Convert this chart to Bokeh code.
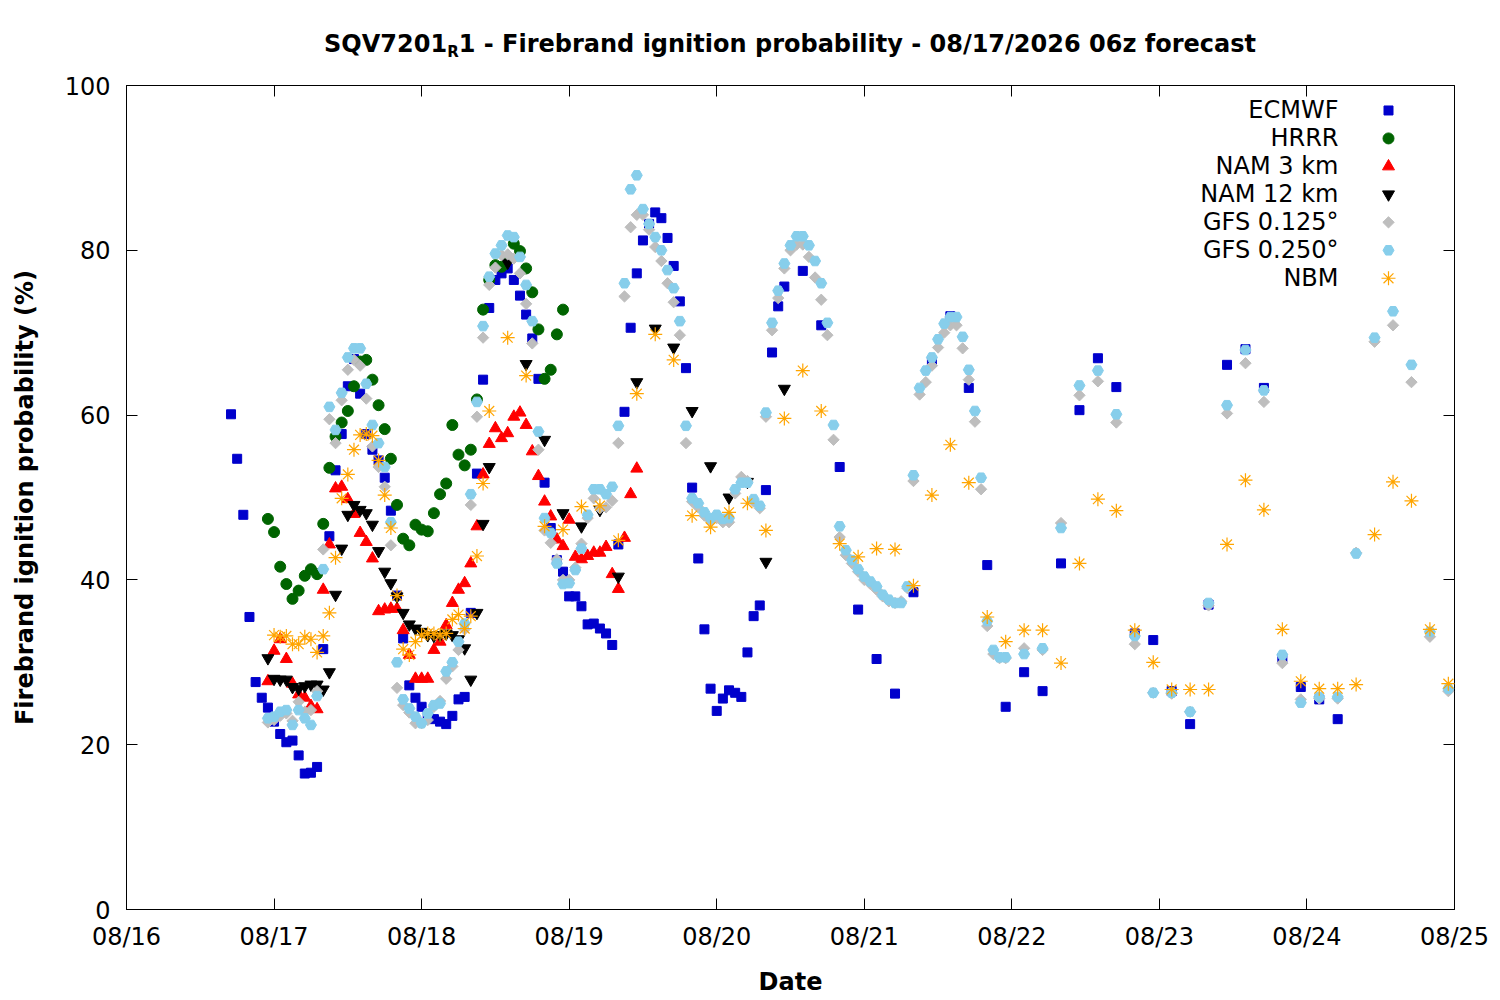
from bokeh.plotting import figure
from bokeh.models import Range1d, FixedTicker, LinearAxis, Label, ColumnDataSource, Div
from bokeh.layouts import column
from bokeh.embed import file_html
from bokeh.resources import INLINE
import math

# ---------------- data (hours since 08/16 00:00) ----------------
day_ticks = [0, 24, 48, 72, 96, 120, 144, 168, 192, 216]
day_labels = ["08/16", "08/17", "08/18", "08/19", "08/20", "08/21", "08/22", "08/23", "08/24", "08/25"]
y_ticks = [0, 20, 40, 60, 80, 100]

ecmwf_hours = list(range(17, 108)) + list(range(110, 198, 3))
ecmwf_vals = [
    60.1, 54.7, 47.9, 35.5, 27.6, 25.7, 24.5, 22.8, 21.3, 20.3,
    20.5, 18.7, 16.5, 16.6, 17.3, 31.6, 45.3, 53.3, 57.7, 63.5,
    66.8, 62.6, 57.7, 55.8, 54.5, 52.4, 48.4, 38.1, 32.9, 27.2,
    25.7, 24.6, 23.4, 23.1, 22.8, 22.5, 23.5, 25.5, 25.8, 36.0,
    52.9, 64.3, 73.0, 76.4, 77.2, 77.8, 76.4, 74.5, 72.2, 69.3,
    64.4, 51.8, 46.3, 42.4, 41.0, 38.0, 38.0, 36.8, 34.6, 34.7,
    34.1, 33.5, 32.1, 44.3, 60.4, 70.6, 77.2, 81.2, 83.2, 84.6,
    83.9, 81.5, 78.1, 73.8, 65.7, 51.2, 42.6, 34.0, 26.8, 24.1,
    25.6, 26.6, 26.3, 25.8, 31.2, 35.6, 36.9, 50.9, 67.6, 73.2, 75.6,
    77.5, 70.9, 53.7, 36.4, 30.4, 26.2, 38.5, 66.5, 72.0, 63.3,
    41.8, 24.6, 28.8, 26.5, 42.0, 60.6, 66.9, 63.4, 33.5, 32.7,
    26.5, 22.5, 37.0, 66.1, 68.0, 63.3, 30.5, 27.0, 25.5, 23.1,
]

hrrr_hours = list(range(23, 72))
hrrr_vals = [
    47.4, 45.8, 41.6, 39.5, 37.7, 38.7, 40.5, 41.3, 40.7, 46.8,
    53.6, 57.4, 59.1, 60.5, 63.5, 66.5, 66.7, 64.3, 61.2, 58.3,
    54.7, 49.1, 45.0, 44.2, 46.7, 46.1, 45.9, 48.1, 50.4, 51.7,
    58.8, 55.2, 53.9, 55.8, 61.9, 72.8, 76.4, 78.2, 78.0, 79.1,
    80.8, 79.9, 77.8, 74.9, 70.4, 64.4, 65.5, 69.8, 72.8,
]

nam3_hours = list(range(23, 84))
nam3_vals = [
    27.7, 31.4, 32.8, 30.4, 27.4, 26.1, 25.7, 24.7, 24.3, 38.8,
    44.3, 51.1, 51.3, 49.8, 48.0, 45.7, 44.6, 42.6, 36.2, 36.4,
    36.5, 36.5, 33.9, 30.9, 28.0, 28.0, 28.0, 31.5, 32.5, 34.5,
    37.2, 38.8, 39.6, 42.0, 46.5, 52.8, 56.5, 58.4, 57.2, 57.8,
    59.8, 60.3, 58.8, 55.6, 52.6, 49.5, 47.7, 44.9, 44.1, 47.3,
    42.8, 42.5, 42.9, 43.3, 43.3, 44.0, 40.7, 38.9, 45.1, 50.4, 53.5,
]

nam12_hours = list(range(23, 60)) + list(range(62, 108, 3))
nam12_vals = [
    30.5, 28.0, 27.9, 27.9, 27.0, 26.8, 27.1, 27.3, 27.3, 26.7,
    28.8, 38.2, 43.8, 47.9, 49.1, 48.5, 48.1, 46.7, 43.5, 41.0,
    39.6, 38.0, 36.0, 34.6, 34.1, 33.7, 33.3, 33.2, 33.3, 33.5,
    33.3, 32.8, 31.7, 27.9, 36.0, 46.8, 53.7,
    78.5, 66.2, 57.0, 48.1, 46.5, 48.5, 40.4, 64.0, 70.5, 68.2,
    60.5, 53.8, 50.0, 51.9, 42.2, 63.2,
]

gfs_hours = list(range(23, 144)) + list(range(146, 216, 3))
gfs125_vals = [
    22.7, 23.0, 23.5, 23.8, 22.9, 25.2, 24.0, 24.2, 26.5, 43.7,
    59.5, 56.6, 61.8, 65.5, 66.7, 66.0, 62.0, 56.2, 53.7, 51.3,
    44.2, 26.9, 24.8, 23.9, 22.6, 22.6, 23.0, 24.6, 25.3, 28.0,
    29.5, 31.5, 34.0, 49.1, 59.8, 69.4, 75.8, 77.9, 79.4, 79.5,
    79.0, 77.2, 73.5, 68.7, 55.8, 46.0, 44.5, 42.5, 40.0, 40.0,
    41.5, 44.4, 47.5, 49.9, 48.7, 48.8, 49.6, 56.6, 74.4, 82.8,
    84.3, 84.3, 82.5, 80.4, 78.7, 76.0, 73.7, 69.7, 56.6, 49.5,
    48.8, 47.8, 47.2, 47.5, 47.0, 47.0, 50.5, 52.5, 52.0, 49.5,
    48.7, 59.8, 70.3, 74.2, 77.8, 80.0, 80.7, 80.7, 79.2, 76.7,
    74.0, 69.7, 57.0, 45.2, 43.0, 42.0, 41.0, 40.0, 39.5, 38.8,
    38.0, 37.4, 37.2, 37.4, 39.0, 52.0, 62.5, 64.0, 66.0, 68.2,
    70.0, 70.9, 70.9, 68.1, 64.3, 59.2, 51.0, 34.4, 31.0, 30.5, 30.5,
    31.7, 31.5, 46.9, 62.4, 64.1, 59.1, 32.2, 26.3, 26.2, 24.0,
    36.9, 60.2, 66.3, 61.6, 29.9, 25.5, 25.6, 25.6, 43.3, 68.9,
    70.9, 64.0, 33.1, 26.5,
]
gfs250_vals = [
    23.2, 23.4, 24.0, 24.2, 22.4, 24.2, 23.2, 22.4, 25.9, 41.3,
    61.0, 58.2, 62.7, 67.0, 68.1, 68.1, 63.8, 58.8, 56.6, 53.7,
    47.0, 30.0, 25.5, 24.4, 23.4, 22.6, 23.8, 24.8, 25.0, 28.9,
    30.0, 32.5, 34.7, 50.4, 61.6, 70.8, 76.8, 79.6, 80.6, 81.8,
    81.6, 79.2, 75.8, 71.4, 58.0, 47.5, 45.7, 42.0, 39.5, 39.6,
    41.2, 43.8, 47.9, 51.0, 51.0, 50.4, 51.3, 58.7, 76.0, 87.4,
    89.1, 85.0, 83.2, 81.6, 80.0, 77.6, 75.4, 71.4, 58.7, 49.9,
    49.3, 48.2, 47.5, 47.9, 47.4, 47.5, 51.0, 51.8, 51.8, 49.8,
    49.0, 60.3, 71.2, 75.1, 78.4, 80.6, 81.7, 81.7, 80.6, 78.7,
    76.0, 71.2, 58.8, 46.5, 43.6, 42.4, 41.3, 40.4, 39.8, 39.2,
    38.2, 37.6, 37.2, 37.2, 39.2, 52.7, 63.3, 65.4, 67.0, 69.2,
    71.1, 71.9, 71.9, 69.5, 65.5, 60.5, 52.4, 35.0, 31.5, 30.6, 30.6,
    31.0, 31.7, 46.3, 63.6, 65.4, 60.1, 33.2, 26.3, 26.3, 24.0,
    37.2, 61.2, 67.9, 63.0, 30.9, 25.1, 25.8, 25.8, 43.2, 69.4,
    72.6, 66.1, 33.7, 26.8,
]

nbm_hours = list(range(24, 60)) + list(range(62, 216, 3))
nbm_vals = [
    33.3, 33.1, 33.2, 32.2, 32.2, 33.1, 32.8, 31.2, 33.2, 36.0,
    42.7, 49.9, 52.8, 55.8, 57.6, 57.7, 57.5, 54.5, 50.3, 46.3,
    38.1, 31.6, 30.9, 32.5, 33.3, 33.5, 33.5, 33.3, 33.5, 35.2,
    35.8, 34.1, 35.6, 42.9, 51.7, 60.5,
    69.4, 64.8, 46.5, 46.1, 48.9, 49.0, 44.8, 62.6, 69.8, 66.7,
    47.8, 46.4, 48.2, 49.3, 46.0, 59.6, 65.4, 60.5, 44.4, 42.8,
    43.8, 43.7, 39.3, 50.3, 56.4, 51.8, 35.5, 32.5, 33.9, 33.9,
    29.9, 42.0, 49.8, 48.4, 33.9, 30.0, 26.7, 26.7, 26.7, 44.3,
    52.1, 48.5, 34.0, 27.7, 26.8, 26.8, 27.3, 45.5, 51.9, 49.6,
    34.0, 27.4,
]

# ---------------- layout geometry ----------------
FRAME_W, FRAME_H = 1328, 825
LEFT, RIGHT, BOTTOM = 126, 38, 88
TITLE_H = 60
TOP = 85 - TITLE_H
FONT = "DejaVu Sans"

title_div = Div(
    text=('SQV7201<span style="font-size:15px; vertical-align:-5px;">R</span>'
          '1 - Firebrand ignition probability - 08/17/2026 06z forecast'),
    width=FRAME_W, height=TITLE_H, margin=(0, 0, 0, LEFT),
    styles={"font-family": FONT, "font-weight": "bold", "font-size": "24px",
            "line-height": "28px", "text-align": "center", "color": "black",
            "padding-top": "30px", "box-sizing": "border-box", "white-space": "nowrap"},
)

p = figure(width=LEFT + FRAME_W + RIGHT, height=TOP + FRAME_H + BOTTOM,
           output_backend="svg", toolbar_location=None,
           title=None, x_range=Range1d(0, 216), y_range=Range1d(0, 100),
           min_border_left=LEFT, min_border_right=RIGHT, min_border_top=TOP,
           min_border_bottom=BOTTOM)
p.background_fill_color = "white"
p.border_fill_color = "white"
p.outline_line_color = "black"
p.outline_line_width = 1
p.xgrid.visible = False
p.ygrid.visible = False

for ax in (p.xaxis[0], p.yaxis[0]):
    ax.major_tick_in = 11
    ax.major_tick_out = 0
    ax.minor_tick_line_color = None
    ax.axis_line_color = "black"
    ax.major_tick_line_color = "black"
    ax.major_label_text_font = FONT
    ax.major_label_text_font_size = "24px"
    ax.major_label_text_color = "black"
    ax.axis_label_text_font = FONT
    ax.axis_label_text_font_style = "bold"
    ax.axis_label_text_font_size = "24px"
    ax.axis_label_text_color = "black"

p.xaxis.ticker = FixedTicker(ticks=day_ticks)
p.xaxis.major_label_overrides = {t: lab for t, lab in zip(day_ticks, day_labels)}
p.xaxis.major_label_standoff = 13
p.xaxis.axis_label = "Date"
p.xaxis.axis_label_standoff = 14

p.yaxis.ticker = FixedTicker(ticks=y_ticks)
p.yaxis.major_label_standoff = 16
p.yaxis.axis_label = "Firebrand ignition probability (%)"
p.yaxis.axis_label_standoff = 23

# mirrored tick marks (top and right)
top_ax = LinearAxis(ticker=FixedTicker(ticks=day_ticks),
                    major_label_overrides={t: "" for t in day_ticks},
                    major_tick_in=11, major_tick_out=0, minor_tick_line_color=None,
                    axis_line_color=None, major_label_standoff=0)
right_ax = LinearAxis(ticker=FixedTicker(ticks=y_ticks),
                      major_label_overrides={t: "" for t in y_ticks},
                      major_tick_in=11, major_tick_out=0, minor_tick_line_color=None,
                      axis_line_color=None, major_label_standoff=0)
p.add_layout(top_ax, "above")
p.add_layout(right_ax, "right")

series = [
    ("ECMWF", ecmwf_hours, ecmwf_vals, dict(marker="square", size=9, fill_color="#0000CC", line_color="#0000CC")),
    ("HRRR", hrrr_hours, hrrr_vals, dict(marker="circle", size=11, fill_color="#006400", line_color="#006400")),
    ("NAM 3 km", nam3_hours, nam3_vals, dict(marker="triangle", size=12, fill_color="#FF0000", line_color="#FF0000")),
    ("NAM 12 km", nam12_hours, nam12_vals, dict(marker="inverted_triangle", size=12, fill_color="black", line_color="black")),
    ("GFS 0.125°", gfs_hours, gfs125_vals, dict(marker="square", size=8, angle=math.pi / 4, fill_color="#BEBEBE", line_color="#BEBEBE")),
    ("GFS 0.250°", gfs_hours, gfs250_vals, dict(marker="hex", size=11, fill_color="#87CEEB", line_color="#87CEEB")),
    ("NBM", nbm_hours, nbm_vals, dict(marker="asterisk", size=14, fill_color=None, line_color="#FFA500", line_width=1.2)),
]

for name, hx, hy, style in series:
    src = ColumnDataSource(dict(x=hx, y=hy))
    p.scatter("x", "y", source=src, **style)

# ---------------- key (gnuplot style: text then symbol) ----------------
p.extra_x_ranges = {"px": Range1d(0, FRAME_W)}
p.extra_y_ranges = {"py": Range1d(0, FRAME_H)}
key_text_x = 1212      # right edge of key text, px from frame left
key_sym_x = 1262       # key symbol centre
key_top = 800          # first row centre, px from frame bottom
key_step = 28
for i, (name, hx, hy, style) in enumerate(series):
    yy = key_top - i * key_step
    p.add_layout(Label(x=key_text_x, y=yy, x_units="screen", y_units="screen", text=name,
                       text_align="right", text_baseline="middle", text_font=FONT,
                       text_font_size="24px", text_color="black"))
    ksrc = ColumnDataSource(dict(x=[key_sym_x], y=[yy]))
    p.scatter("x", "y", source=ksrc, x_range_name="px", y_range_name="py", **style)

layout = column(title_div, p, spacing=0)
open("out.html", "w").write(file_html(layout, INLINE))
